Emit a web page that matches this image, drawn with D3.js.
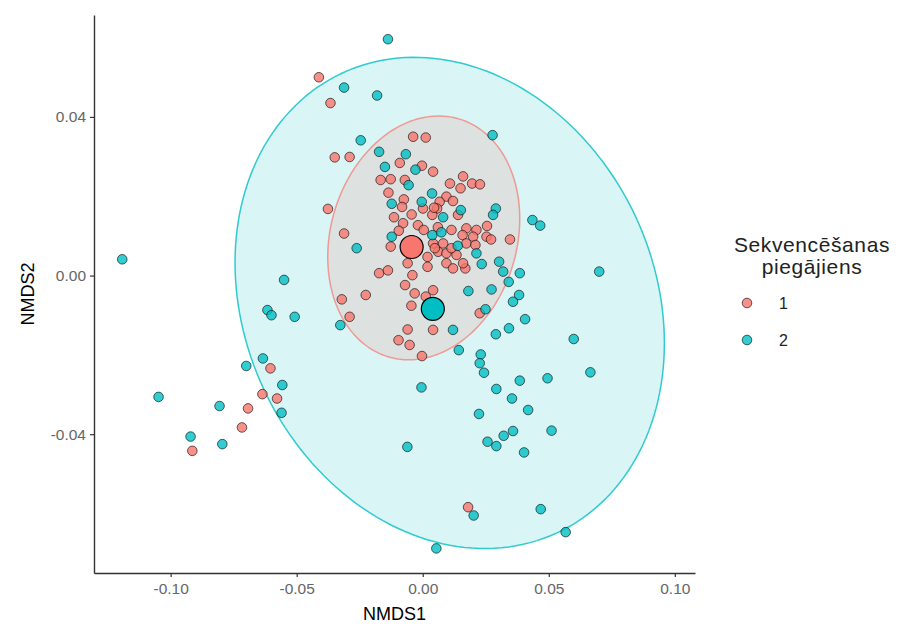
<!DOCTYPE html>
<html>
<head>
<meta charset="utf-8">
<script src="https://cdn.jsdelivr.net/npm/d3@7"></script>
<style>
  body { margin: 0; background: #fff; }
  svg { font-family: "Liberation Sans", Arial, sans-serif; }
</style>
</head>
<body>
<svg id="chart" width="900" height="628"></svg>
<script>
// NMDS scores, sequencing run 1
const run1X = [-0.0412, -0.0366, -0.0349, -0.0290, -0.0038, 0.0012, -0.0091, -0.0003, 0.0041, -0.0167,
  -0.0127, -0.0071, 0.0108, 0.0160, 0.0150, 0.0196, 0.0227, -0.0136, 0.0094, -0.0075,
  -0.0082, 0.0120, 0.0067, 0.0057, 0.0140, -0.0376, -0.0114, -0.0044, 0.0001, 0.0038,
  0.0045, -0.0078, -0.0019, -0.0095, 0.0004, 0.0060, 0.0114, 0.0173, 0.0213, 0.0255,
  0.0158, 0.0200, 0.0253, 0.0271, 0.0346, -0.0312, -0.0127, 0.0041, 0.0081, 0.0173,
  0.0209, 0.0019, 0.0061, 0.0094, 0.0134, 0.0094, 0.0120, 0.0169, 0.0160, 0.0019,
  -0.0060, -0.0173, -0.0138, -0.0041, -0.0070, -0.0032, 0.0041, -0.0321, -0.0226, -0.0045,
  0.0226, -0.0290, -0.0060, 0.0041, -0.0096, -0.0052, -0.0003, 0.0012, 0.0048, 0.0114,
  -0.0604, -0.0636, -0.0578, -0.0693, -0.0717, -0.0914, 0.0180];
const run1Y = [0.0500, 0.0435, 0.0298, 0.0299, 0.0350, 0.0348, 0.0284, 0.0277, 0.0262, 0.0241,
  0.0243, 0.0241, 0.0232, 0.0250, 0.0220, 0.0232, 0.0230, 0.0209, 0.0199, 0.0192,
  0.0173, 0.0188, 0.0186, 0.0169, 0.0153, 0.0168, 0.0147, 0.0154, 0.0169, 0.0153,
  0.0171, 0.0132, 0.0127, 0.0113, 0.0115, 0.0122, 0.0115, 0.0119, 0.0115, 0.0125,
  0.0102, 0.0098, 0.0098, 0.0091, 0.0091, 0.0106, 0.0073, 0.0081, 0.0081, 0.0081,
  0.0077, 0.0047, 0.0060, 0.0056, 0.0052, 0.0031, 0.0018, 0.0018, 0.0031, 0.0022,
  0.0031, 0.0006, 0.0013, 0.0001, -0.0024, -0.0045, -0.0037, -0.0060, -0.0049, -0.0076,
  -0.0095, -0.0104, -0.0136, -0.0137, -0.0163, -0.0175, -0.0203, -0.0053, 0.0069, 0.0069,
  -0.0234, -0.0299, -0.0310, -0.0335, -0.0383, -0.0442, -0.0584];

// NMDS scores, sequencing run 2
const run2X = [-0.0138, -0.0312, -0.0181, -0.0246, 0.0277, -0.0173, -0.0067, -0.0150, -0.0029, -0.0056,
  0.0037, -0.0123, -0.0004, 0.0151, 0.0290, 0.0279, 0.0081, -0.0123, 0.0038, 0.0074,
  0.0139, -0.0262, 0.0213, 0.0234, 0.0303, 0.0319, 0.0385, 0.0341, 0.0181, 0.0273,
  0.0382, 0.0358, 0.0249, 0.0406, -0.0327, 0.0120, 0.0342, 0.0290, 0.0143, 0.0230,
  0.0226, 0.0243, 0.0435, 0.0466, 0.0700, 0.0599, 0.0665, -0.0005, 0.0385, 0.0495,
  0.0292, 0.0354, 0.0418, 0.0223, 0.0511, 0.0358, 0.0321, 0.0257, 0.0292, 0.0402,
  -0.0061, 0.0202, 0.0468, 0.0567, 0.0054, -0.1192, -0.0550, -0.0616, -0.0600, -0.0508,
  -0.0700, -0.0634, -0.0557, -0.1048, -0.0806, -0.0560, -0.0921, -0.0795];
const run2Y = [0.0596, 0.0474, 0.0454, 0.0341, 0.0354, 0.0312, 0.0306, 0.0274, 0.0267, 0.0228,
  0.0207, 0.0181, 0.0186, 0.0165, 0.0169, 0.0153, 0.0147, 0.0098, 0.0102, 0.0109,
  0.0075, 0.0069, 0.0056, 0.0029, 0.0035, 0.0010, 0.0006, -0.0016, -0.0039, -0.0035,
  -0.0049, -0.0066, -0.0085, -0.0110, -0.0125, -0.0137, -0.0133, -0.0148, -0.0188, -0.0199,
  -0.0221, -0.0245, 0.0140, 0.0126, 0.0010, -0.0160, -0.0244, -0.0282, -0.0265, -0.0259,
  -0.0286, -0.0310, -0.0339, -0.0349, -0.0391, -0.0392, -0.0404, -0.0419, -0.0430, -0.0446,
  -0.0432, -0.0605, -0.0589, -0.0647, -0.0688, 0.0041, -0.0011, -0.0087, -0.0100, -0.0104,
  -0.0228, -0.0209, -0.0276, -0.0306, -0.0329, -0.0346, -0.0406, -0.0425];

// group centroids
const groups = ["1", "2"];
const centroidX = [-0.0044, 0.0040];
const centroidY = [0.0072, -0.0084];

// 95% ellipses: centre and shape matrix
const ellipseCx = [0.0004, 0.0107];
const ellipseCy = [0.0095, -0.0069];
const ellipseSxx = [0.001450, 0.007252];
const ellipseSxy = [0.000183, -0.000864];
const ellipseSyy = [0.000945, 0.003835];

const colors = ["#F8766D", "#00BFC4"];
const xTicks = [-0.10, -0.05, 0, 0.05, 0.10];
const yTicks = [-0.04, 0, 0.04];

const svg = d3.select("#chart");
const margin = {left: 94, right: 205, top: 15, bottom: 55};
const width = 900, height = 628;

const x = d3.scaleLinear().domain([-0.1304, 0.108]).range([margin.left, width - margin.right]);
const y = d3.scaleLinear().domain([-0.075, 0.0657]).range([height - margin.bottom, margin.top]);

// ellipses (blue drawn first, red on top)
const line = d3.line().x(d => x(d[0])).y(d => y(d[1])).curve(d3.curveLinearClosed);
const ellipseOrder = [1, 0];
ellipseOrder.forEach(i => {
  const l11 = Math.sqrt(ellipseSxx[i]);
  const l21 = ellipseSxy[i] / l11;
  const l22 = Math.sqrt(ellipseSyy[i] - l21 * l21);
  const pts = d3.range(0, 2 * Math.PI, Math.PI / 90).map(t => [
    ellipseCx[i] + l11 * Math.cos(t),
    ellipseCy[i] + l21 * Math.cos(t) + l22 * Math.sin(t)
  ]);
  svg.append("path")
    .attr("d", line(pts))
    .attr("fill", colors[i])
    .attr("fill-opacity", 0.15)
    .attr("stroke", colors[i])
    .attr("stroke-opacity", i === 0 ? 0.7 : 0.8)
    .attr("stroke-width", 1.5);
});

// sample points
const pointData = [];
run1X.forEach((v, i) => pointData.push({x: v, y: run1Y[i], g: 0}));
run2X.forEach((v, i) => pointData.push({x: v, y: run2Y[i], g: 1}));

svg.append("g").selectAll("circle")
  .data(pointData)
  .join("circle")
    .attr("cx", d => x(d.x))
    .attr("cy", d => y(d.y))
    .attr("r", 4.8)
    .attr("fill", d => colors[d.g])
    .attr("fill-opacity", 0.8)
    .attr("stroke", "#000")
    .attr("stroke-opacity", 0.6)
    .attr("stroke-width", 1);

// centroids
svg.append("g").selectAll("circle")
  .data(groups)
  .join("circle")
    .attr("cx", (d, i) => x(centroidX[i]))
    .attr("cy", (d, i) => y(centroidY[i]))
    .attr("r", 11.5)
    .attr("fill", (d, i) => colors[i])
    .attr("stroke", "#000")
    .attr("stroke-width", 1.2);

// axes
const xAxis = svg.append("g")
  .attr("transform", `translate(0,${height - margin.bottom})`)
  .call(d3.axisBottom(x).tickValues(xTicks).tickFormat(d => d.toFixed(2)).tickSize(4).tickSizeOuter(0).tickPadding(6));
const yAxis = svg.append("g")
  .attr("transform", `translate(${margin.left},0)`)
  .call(d3.axisLeft(y).tickValues(yTicks).tickFormat(d => d.toFixed(2)).tickSize(4).tickSizeOuter(0).tickPadding(4));

[xAxis, yAxis].forEach(a => {
  a.select(".domain").attr("stroke", "#333").attr("stroke-width", 1.4);
  a.selectAll(".tick line").attr("stroke", "#333").attr("stroke-width", 1.2);
  a.selectAll(".tick text").attr("fill", "#666").style("font-size", "15.5px").style("font-family", "'Liberation Sans', Arial, sans-serif");
});

// axis titles
svg.append("text")
  .attr("x", (margin.left + width - margin.right) / 2)
  .attr("y", 620)
  .attr("text-anchor", "middle")
  .attr("font-size", 18)
  .text("NMDS1");
svg.append("text")
  .attr("transform", `translate(34,${(margin.top + height - margin.bottom) / 2}) rotate(-90)`)
  .attr("text-anchor", "middle")
  .attr("font-size", 18)
  .text("NMDS2");

// legend
const legend = svg.append("g");
legend.append("text")
  .attr("x", 812).attr("y", 252)
  .attr("text-anchor", "middle")
  .attr("font-size", 21)
  .attr("letter-spacing", 0.6)
  .attr("fill", "#222")
  .text("Sekvencēšanas");
legend.append("text")
  .attr("x", 812).attr("y", 274)
  .attr("text-anchor", "middle")
  .attr("font-size", 21)
  .attr("letter-spacing", 0.6)
  .attr("fill", "#222")
  .text("piegājiens");

const keys = legend.selectAll(".key")
  .data(groups)
  .join("g")
  .attr("class", "key")
  .attr("transform", (d, i) => `translate(747,${303 + i * 37})`);
keys.append("circle")
  .attr("r", 4.8)
  .attr("fill", (d, i) => colors[i])
  .attr("fill-opacity", 0.8)
  .attr("stroke", "#000")
  .attr("stroke-opacity", 0.6);
keys.append("text")
  .attr("x", 32).attr("y", 6)
  .attr("font-size", 16)
  .attr("fill", "#222")
  .text(d => d);
</script>
</body>
</html>
